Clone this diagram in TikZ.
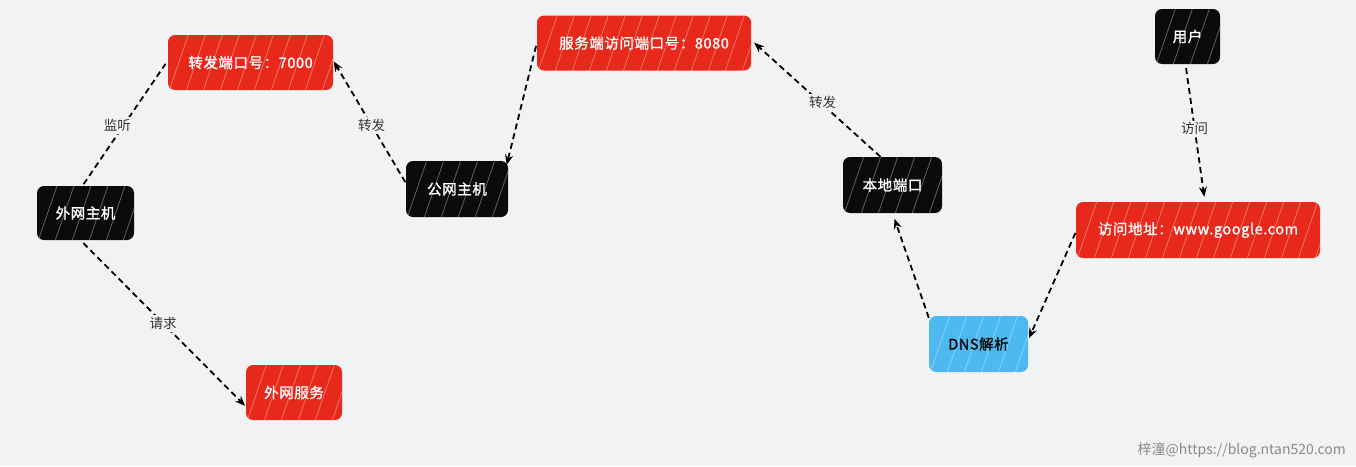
\documentclass[tikz,border=0pt]{standalone}
\usepackage{fontspec}
\newfontfamily\cjk{Noto Sans CJK SC}
\newfontfamily\cjkb[FakeBold=1.3,LetterSpace=4]{Noto Sans CJK SC}
\usetikzlibrary{arrows.meta}
\definecolor{bg}{HTML}{F1F2F4}
\definecolor{boxred}{HTML}{E8281B}
\definecolor{boxblack}{HTML}{0B0B0B}
\definecolor{boxblue}{HTML}{4DB9F0}
\definecolor{labelgray}{HTML}{333333}
\definecolor{markgray}{HTML}{8A8A8A}
\tikzset{
  box/.style={rounded corners=7pt, inner sep=0pt, font=\cjkb\fontsize{14.5}{16}\selectfont,
    path picture={\foreach \i in {0,17,...,260}
      \draw[white,opacity=.35,line width=.8pt] ([xshift=\i pt,yshift=-4pt]path picture bounding box.south west) -- ++(22pt,64pt);}},
  redbox/.style={box, fill=boxred, text=white},
  blackbox/.style={box, fill=boxblack, text=white},
  bluebox/.style={box, fill=boxblue, text=boxblack},
  conn/.style={dashed, dash pattern=on 6pt off 4pt, line width=1.8pt, black},
  arr/.style={conn, -{Stealth[length=10pt,width=8pt]}},
  lab/.style={fill=bg, inner sep=2pt, text=labelgray, font=\cjk\fontsize{13.5}{15}\selectfont}
}
\begin{document}
\begin{tikzpicture}[x=1pt,y=-1pt]
\useasboundingbox (0,0) rectangle (1356,466);
\fill[bg] (0,0) rectangle (1356,466);

\node[blackbox, minimum width=97pt, minimum height=54pt] (waiwang) at (85.5,213) {外网主机};
\node[redbox, minimum width=165pt, minimum height=55pt] (zf7000) at (250.5,62.5) {转发端口号：7000};
\node[blackbox, minimum width=102pt, minimum height=56pt] (gongwang) at (457,189) {公网主机};
\node[redbox, minimum width=214pt, minimum height=55pt] (fw8080) at (644,43) {服务端访问端口号：8080};
\node[blackbox, minimum width=99pt, minimum height=56pt] (bendi) at (892.5,185) {本地端口};
\node[blackbox, minimum width=65pt, minimum height=55pt] (yonghu) at (1187.5,36.5) {用户};
\node[redbox, minimum width=244pt, minimum height=56pt] (fangwen) at (1198,230) {访问地址：www.google.com};
\node[bluebox, minimum width=99pt, minimum height=56pt] (dns) at (978.5,344) {DNS解析};
\node[redbox, minimum width=96pt, minimum height=55pt] (waifuwu) at (294,392.5) {外网服务};

\draw[conn, shorten >=4pt, shorten <=2pt] ([xshift=-3pt]waiwang.north) -- ([yshift=2pt]zf7000.west)
  node[lab, pos=0.48, xshift=-6pt] {监听};
\draw[arr, shorten <=1pt, shorten >=1pt] ([yshift=6pt]gongwang.west) -- ([yshift=2pt]zf7000.east)
  node[lab, pos=0.47] {转发};
\draw[arr, shorten <=3pt, shorten >=2pt] (fw8080.west) -- ([xshift=-2pt,yshift=-6pt]gongwang.north east);
\draw[arr, shorten >=4pt] ([xshift=-12pt]bendi.north) -- ([yshift=3pt]fw8080.east)
  node[lab, pos=0.47, xshift=3pt] {转发};
\draw[arr, shorten >=6pt] ([yshift=-2pt]dns.north west) -- (bendi.south);
\draw[arr, shorten <=1pt, shorten >=2pt] ([yshift=-2pt]fangwen.west) -- ([yshift=4pt]dns.east);
\draw[arr, shorten <=4pt, shorten >=5pt] ([xshift=-2pt]yonghu.south) -- ([xshift=7pt]fangwen.north)
  node[lab, pos=0.47] {访问};
\draw[arr, shorten <=4pt, shorten >=1pt] ([xshift=-5pt]waiwang.south) -- ([yshift=-14pt]waifuwu.west)
  node[lab, pos=0.5] {请求};

\node[anchor=east, text=markgray, font=\cjk\fontsize{14}{16}\selectfont, inner sep=0pt] (mark) at (1346,450) {梓潼@https://blog.ntan520.com};
\end{tikzpicture}
\end{document}
